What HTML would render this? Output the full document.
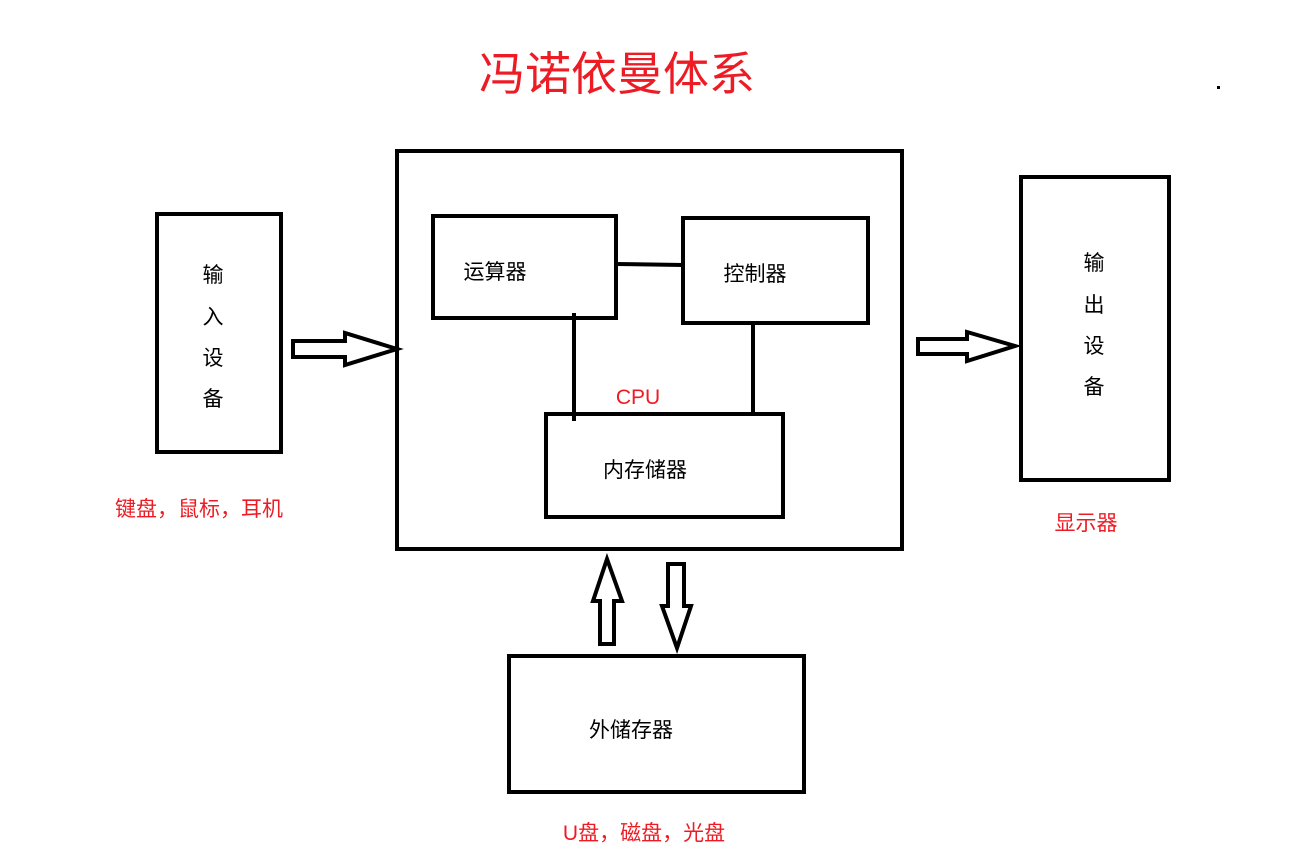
<!DOCTYPE html>
<html><head><meta charset="utf-8"><style>
html,body{margin:0;padding:0;background:#fff;}
svg{display:block;}
text{font-family:"Liberation Sans","Noto Sans CJK SC",sans-serif;}
</style></head><body>
<svg width="1299" height="858" viewBox="0 0 1299 858" xmlns="http://www.w3.org/2000/svg">
<rect width="1299" height="858" fill="#fff"/>
<text x="617" y="90" font-size="46" fill="#ed1c24" text-anchor="middle">冯诺依曼体系</text>
<rect x="1217" y="86" width="3" height="3" fill="#000"/>
<g fill="none" stroke="#000" stroke-width="4">
<rect x="157" y="214" width="124" height="238"/>
<rect x="397" y="151" width="505" height="398"/>
<rect x="433" y="216" width="183" height="102"/>
<rect x="683" y="218" width="185" height="105"/>
<rect x="546" y="414" width="237" height="103"/>
<rect x="1021" y="177" width="148" height="303"/>
<rect x="509" y="656" width="295" height="136"/>
<line x1="616" y1="264" x2="683" y2="265"/>
<line x1="574" y1="313" x2="574" y2="421"/>
<line x1="753" y1="323" x2="753" y2="414"/>
</g>
<g fill="#fff" stroke="#000" stroke-width="4" stroke-linejoin="miter">
<polygon points="293,341 345,341 345,333 397,349 345,365 345,357 293,357"/>
<polygon points="918,339 967,339 967,332 1015,346 967,361 967,354 918,354"/>
<polygon points="607,559 622,601 614,601 614,644 600,644 600,601 593,601"/>
<polygon points="668,564 684,564 684,606 691,606 677,648 662,606 668,606"/>
</g>
<g font-size="21" fill="#000" text-anchor="middle">
<text x="213" y="282">输</text>
<text x="213" y="324">入</text>
<text x="213" y="365">设</text>
<text x="213" y="406">备</text>
<text x="1094" y="270">输</text>
<text x="1094" y="312">出</text>
<text x="1094" y="353">设</text>
<text x="1094" y="394">备</text>
<text x="495" y="279">运算器</text>
<text x="755" y="281">控制器</text>
<text x="645" y="477">内存储器</text>
<text x="631" y="737">外储存器</text>
</g>
<g font-size="21" fill="#ed1c24" text-anchor="middle">
<text x="199" y="516">键盘，鼠标，耳机</text>
<text x="638" y="404">CPU</text>
<text x="1086" y="530">显示器</text>
<text x="644" y="840">U盘，磁盘，光盘</text>
</g>
</svg>
</body></html>
